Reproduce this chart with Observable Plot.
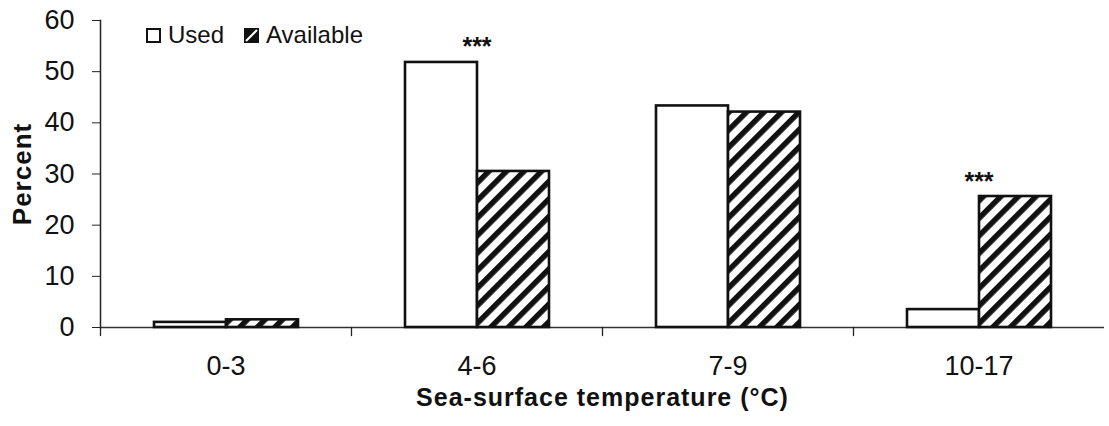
<!DOCTYPE html>
<html><head><meta charset="utf-8">
<script src="https://cdn.jsdelivr.net/npm/d3@7"></script>
<script src="https://cdn.jsdelivr.net/npm/@observablehq/plot@0.6"></script>
<style>
body{margin:0;background:#fff;}
#wrap{position:relative;width:1109px;height:426px;font-family:"Liberation Sans",Arial,sans-serif;color:#111;}
#legend{position:absolute;left:146px;top:23px;display:flex;align-items:center;font-size:24px;line-height:1;}
#legend .sw{display:inline-block;width:15px;height:15px;margin-right:7px;}
#legend .item{display:flex;align-items:center;margin-right:20px;}
#chart svg g[aria-label="y-axis tick label"] text,
#chart svg g[aria-label="fx-axis tick label"] text{font-size:27px;}
#chart svg g[aria-label="y-axis label"] text{font-weight:bold;font-size:26px;letter-spacing:1px;}
#chart svg g[aria-label="fx-axis label"] text{font-weight:bold;font-size:25px;letter-spacing:1px;}
</style></head>
<body>
<svg width="0" height="0" style="position:absolute">
  <defs>
    <pattern id="hatch" patternUnits="userSpaceOnUse" width="12.4" height="12.4" patternTransform="rotate(45)">
      <rect x="0" y="0" width="12.4" height="12.4" fill="white"></rect>
      <rect x="0" y="0" width="5.5" height="12.4" fill="#111"></rect>
    </pattern>
  </defs>
</svg>
<div id="wrap">
  <div id="chart"></div>
  <div id="legend">
    <span class="item"><svg class="sw" viewBox="0 0 15 15"><rect x="1" y="1" width="13" height="13" fill="white" stroke="#111" stroke-width="2"/></svg>Used</span>
    <span class="item"><svg class="sw" viewBox="0 0 15 15"><rect x="1" y="1" width="13" height="13" fill="#111" stroke="#111" stroke-width="2"/><line x1="2" y1="13" x2="13" y2="2" stroke="white" stroke-width="2"/></svg>Available</span>
  </div>
</div>
<script>
const categories = ["0-3", "4-6", "7-9", "10-17"];
const series = ["Used", "Available"];
const usedValues = [1.0, 51.8, 43.3, 3.5];
const availableValues = [1.5, 30.5, 42.1, 25.6];
const significant = ["4-6", "10-17"];
const sigLabel = "***";
const yTicks = [0, 10, 20, 30, 40, 50, 60];

const rows = [];
categories.forEach((c, i) => {
  rows.push({category: c, series: "Used", value: usedValues[i]});
  rows.push({category: c, series: "Available", value: availableValues[i]});
});
const sigRows = significant.map(c => {
  const i = categories.indexOf(c);
  return {category: c, value: Math.max(usedValues[i], availableValues[i])};
});

const chart = Plot.plot({
  width: 1109,
  height: 426,
  marginLeft: 98,
  marginRight: 4,
  marginTop: 20,
  marginBottom: 99,
  style: {fontFamily: '"Liberation Sans", Arial, sans-serif', fontSize: "24px", color: "#111", background: "white"},
  fx: {domain: categories, padding: 0},
  x: {domain: series, paddingInner: 0, paddingOuter: 0.72, axis: null},
  y: {domain: [0, 60], axis: null},
  marks: [
    Plot.ruleY([0], {stroke: "#333", strokeWidth: 1.5}),
    Plot.frame({anchor: "left", facetAnchor: "left", stroke: "#222", strokeWidth: 1.5}),
    Plot.barY(rows.filter(d => d.series === "Used"), {fx: "category", x: "series", y: "value", fill: "white", stroke: "#111", strokeWidth: 2.6}),
    Plot.barY(rows.filter(d => d.series === "Available"), {fx: "category", x: "series", y: "value", fill: "url(#hatch)", stroke: "#111", strokeWidth: 2.6}),
    Plot.text(sigRows, {fx: "category", y: "value", text: () => sigLabel, dy: -15, fontSize: 25, fontWeight: "bold"}),
    Plot.vector(categories, {fx: d => d, frameAnchor: "bottom-left", length: 8, rotate: 180, anchor: "start", shape: "spike", r: 0, stroke: "#222", strokeWidth: 1.3, fill: "none"}),
    Plot.axisY({ticks: yTicks, tickSize: 8, tickPadding: 18, fontSize: 27, label: "Percent", labelAnchor: "center", labelArrow: "none", labelOffset: 88, stroke: "#222"}),
    Plot.axisFx({anchor: "bottom", tickSize: 0, tickPadding: 28, fontSize: 27, label: "Sea-surface temperature (°C)", labelAnchor: "center", labelArrow: "none", labelOffset: 78})
  ]
});
document.getElementById("chart").appendChild(chart);
</script>
</body></html>
